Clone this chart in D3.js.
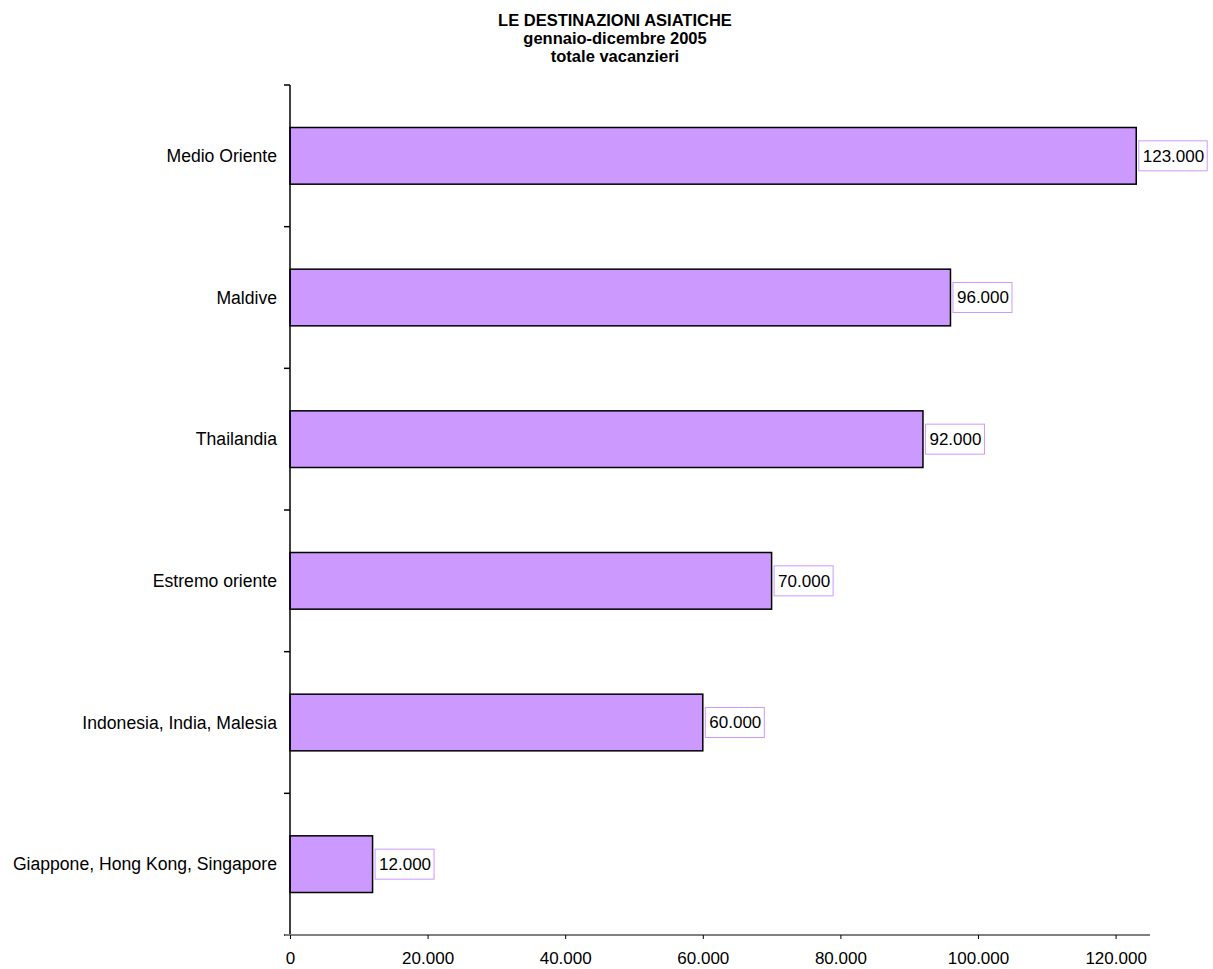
<!DOCTYPE html>
<html>
<head>
<meta charset="utf-8">
<script src="https://cdn.jsdelivr.net/npm/d3@7"></script>
<style>
  body { margin: 0; background: #fff; }
  svg { display: block; font-family: Arial, "Liberation Sans", sans-serif; }
</style>
</head>
<body>
<svg id="chart" width="1213" height="969"></svg>
<script>
// ── Data ──────────────────────────────────────────────────────────────────────
const categories = ['Medio Oriente', 'Maldive', 'Thailandia', 'Estremo oriente',
  'Indonesia, India, Malesia', 'Giappone, Hong Kong, Singapore']
const values = [123000, 96000, 92000, 70000, 60000, 12000]
const xTicks = [0, 20000, 40000, 60000, 80000, 100000, 120000]
const titleLines = ['LE DESTINAZIONI ASIATICHE', 'gennaio-dicembre 2005', 'totale vacanzieri']

// ── Layout ────────────────────────────────────────────────────────────────────
const svg = d3.select('#chart')
const plotL = 290, plotR = 1150, plotT = 85, plotB = 935
const FS = 17

const x = d3.scaleLinear().domain([0, 125000]).range([plotL, plotR])
const y = d3.scaleBand().domain(categories).range([plotT, plotB]).paddingInner(0.6).paddingOuter(0.3)

const fmt = v => d3.format(',')(v).replace(/,/g, '.')

// ── Title ─────────────────────────────────────────────────────────────────────
svg.append('g').selectAll('text').data(titleLines).join('text')
  .attr('x', 615).attr('y', (d, i) => 26 + i * 18)
  .attr('text-anchor', 'middle')
  .attr('font-size', 16.5).attr('font-weight', 'bold')
  .text(d => d)

// ── Bars ──────────────────────────────────────────────────────────────────────
svg.append('g').selectAll('rect').data(values).join('rect')
  .attr('x', x(0))
  .attr('y', (d, i) => y(categories[i]))
  .attr('width', d => x(d) - x(0))
  .attr('height', y.bandwidth())
  .attr('fill', '#cc99ff')
  .attr('stroke', '#000').attr('stroke-width', 1.5)

// ── Value labels ──────────────────────────────────────────────────────────────
const lab = svg.append('g').selectAll('g').data(values).join('g')
  .attr('transform', (d, i) => `translate(${x(d) + 2.5},${y(categories[i]) + y.bandwidth() / 2})`)
lab.append('text')
  .attr('x', 4).attr('dy', '0.35em')
  .attr('font-size', FS)
  .text(d => fmt(d))
lab.each(function () {
  const g = d3.select(this)
  const bb = g.select('text').node().getBBox()
  g.insert('rect', 'text')
    .attr('x', 0).attr('y', -15)
    .attr('width', bb.width + 7).attr('height', 30)
    .attr('fill', '#fff').attr('stroke', '#cc99ff').attr('stroke-width', 1)
})

// ── Y axis ────────────────────────────────────────────────────────────────────
const step = (plotB - plotT) / categories.length
const yAxis = svg.append('g')
yAxis.append('line')
  .attr('x1', plotL).attr('x2', plotL).attr('y1', plotT).attr('y2', plotB)
  .attr('stroke', '#000').attr('stroke-width', 1.5)
yAxis.selectAll('line.tick').data(d3.range(categories.length + 1)).join('line')
  .attr('class', 'tick')
  .attr('x1', plotL - 6).attr('x2', plotL)
  .attr('y1', i => plotT + i * step).attr('y2', i => plotT + i * step)
  .attr('stroke', '#000').attr('stroke-width', 1.5)
yAxis.selectAll('text').data(categories).join('text')
  .attr('x', 277).attr('y', d => y(d) + y.bandwidth() / 2)
  .attr('dy', '0.35em').attr('text-anchor', 'end')
  .attr('font-size', 17.6)
  .text(d => d)

// ── X axis ────────────────────────────────────────────────────────────────────
const xAxis = svg.append('g').attr('transform', `translate(0,${plotB})`)
  .call(d3.axisBottom(x).tickValues(xTicks).tickSize(4).tickSizeOuter(0).tickFormat(fmt))
xAxis.select('.domain').attr('d', `M${plotL - 5},0H${plotR}`).attr('stroke', '#808080').attr('stroke-width', 2)
xAxis.selectAll('.tick line').attr('stroke', '#000')
xAxis.selectAll('.tick text').attr('font-size', FS).attr('fill', '#000').attr('y', 17)
  .attr('font-family', 'Arial, "Liberation Sans", sans-serif')
</script>
</body>
</html>
